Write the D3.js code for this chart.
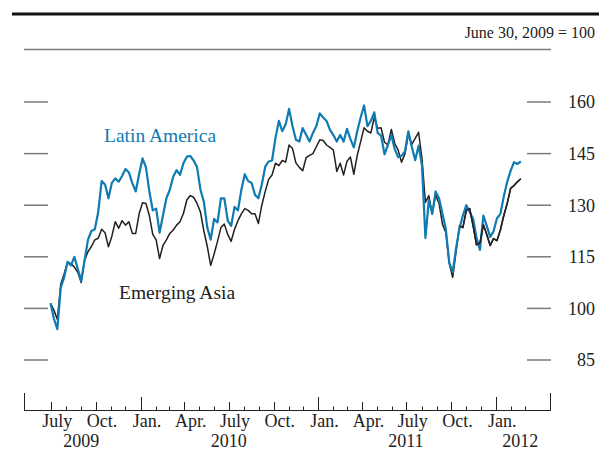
<!DOCTYPE html>
<html>
<head>
<meta charset="utf-8">
<script src="https://cdn.jsdelivr.net/npm/d3@7"></script>
<style>
  html, body { margin: 0; padding: 0; background: #fff; }
  svg { display: block; }
  text { font-family: "Liberation Serif", "Times New Roman", serif; }
</style>
</head>
<body>
<svg id="chart" width="599" height="451"></svg>
<script>
// ---------- data ----------
const startDate = "2009-06-30";          // first weekly observation
const stepDays = 7;                       // weekly observations
const latinAmerica = [
  101.5, 97, 94, 106, 109, 113.5, 112.5, 115, 111.5, 108,
  114, 120, 122.5, 123, 128, 137, 136, 132, 136.5, 137.8,
  136.8, 138.5, 140.5, 139.5, 136.4, 134, 139, 143.6, 141, 134,
  128.5, 129, 122, 127, 132, 134.5, 138.3, 140.2, 138.8, 142.2,
  144.1, 144.3, 143, 141, 134.5, 131, 123.5, 120, 126, 125,
  132, 132, 125.5, 124, 129.5, 128.5, 134.5, 139, 137, 136.5,
  133, 132, 136, 141.2, 142.7, 143, 149.5, 154.5, 151.5, 153.5,
  158, 153, 149, 148.5, 152.4, 150.5, 148.5, 151, 153, 156.7,
  155.5, 154.5, 151.9, 150.4, 148.5, 150.4, 148.5, 152.2, 149.2, 146.8,
  151.5, 155.5, 159, 153, 154.5, 157, 151, 150.2, 144.8, 147.5,
  150.4, 146.3, 144, 144.4, 145.6, 151.5, 147, 143.1, 147.3, 141.5,
  120.5, 131.5, 127.5, 134, 132, 127.5, 123, 113.3, 110.5, 117.5,
  123.3, 127, 130, 128, 126, 120.5, 117, 127, 124, 120.8,
  122.4, 126.2, 127.5, 132.5, 136.8, 140, 142.5, 142, 142.7
];
const emergingAsia = [
  101.5, 99.5, 96.8, 107, 110, 113.5, 113, 112, 110.5, 107.5,
  114, 116.5, 118, 119.9, 120.4, 123, 122, 117.9, 121, 125.2,
  123.3, 125.5, 124.2, 125.2, 121.8, 121.8, 127.5, 130.7, 130.5, 127,
  121.5, 119.9, 114.5, 118.3, 119.9, 121.8, 122.8, 124.2, 125.2, 127.6,
  131.5, 132.8, 132.3, 130.5, 128, 122.5, 118, 112.5, 115.8, 119.5,
  123.5, 124.5, 121.5, 119.5, 123, 125.5, 127.5, 129, 128.5, 127.5,
  127.5, 124.7, 130, 134, 137.5, 138.8, 142.2, 141.5, 143, 142.5,
  147.5, 146.5, 142.3, 141, 140, 143.8, 144.5, 145, 147, 149,
  148.8, 147.5, 146.8, 146, 139.8, 142.2, 138.8, 142.8, 144, 139,
  144.5, 148.5, 152.5, 151.5, 151, 155.5, 152.4, 152.5, 148.3, 147.5,
  152, 148, 146, 142.5, 145, 150.5, 147.7, 149.4, 151.2, 143.5,
  130.8, 132.8, 127.5, 133, 130.5, 124.5, 122, 113, 109, 116.5,
  124, 123.5, 128.5, 129, 124, 118.5, 119, 124.3, 121.5, 118.3,
  120.3, 119.7, 122.8, 127, 130.5, 134.9, 135.7, 136.8, 137.7
];
const yTicks = [85, 100, 115, 130, 145, 160];
const monthLabels = ["July", "Oct.", "Jan.", "Apr.", "July", "Oct.", "Jan.", "Apr.", "July", "Oct.", "Jan."];
const monthLabelDates = ["2009-07-14", "2009-10-14", "2010-01-14", "2010-04-14", "2010-07-14", "2010-10-14",
                         "2011-01-14", "2011-04-14", "2011-07-14", "2011-10-14", "2012-01-14"];
const yearLabels = ["2009", "2010", "2011", "2012"];
const yearLabelDates = ["2009-09-01", "2010-07-01", "2011-06-30", "2012-02-20"];
const unitNote = "June 30, 2009 = 100";
const seriesNames = ["Latin America", "Emerging Asia"];

// ---------- layout ----------
const parse = d3.utcParse("%Y-%m-%d");
const svg = d3.select("#chart");
const font = 18;
const labelFont = 19.5;
const blue = "#0f7bb2";
const black = "#231f20";

const x = d3.scaleUtc()
  .domain([parse("2009-07-01"), parse("2012-01-01")])
  .range([51, 496]);
const y = d3.scaleLinear().domain([85, 160]).range([360, 102]);

const frameLeft = 24, frameRight = 551;
const axisY = 410.5;

const t0 = parse(startDate);
const dates = latinAmerica.map((_, i) => d3.utcDay.offset(t0, i * stepDays));

// top rule
svg.append("line").attr("x1", 12).attr("x2", 599).attr("y1", 14).attr("y2", 14)
  .attr("stroke", "#111").attr("stroke-width", 3);
// unit note
svg.append("text").attr("x", 595).attr("y", 38).attr("text-anchor", "end")
  .attr("font-size", 16).attr("fill", "#222").text(unitNote);
// gray rule under note
svg.append("line").attr("x1", frameLeft).attr("x2", frameRight).attr("y1", 49.5).attr("y2", 49.5)
  .attr("stroke", "#7a7a7a").attr("stroke-width", 1.5);

// y ticks on both sides
const yt = svg.append("g");
yt.selectAll("line.l").data(yTicks).join("line").attr("class", "l")
  .attr("x1", frameLeft).attr("x2", 48).attr("y1", d => y(d)).attr("y2", d => y(d))
  .attr("stroke", "#7a7a7a").attr("stroke-width", 1.5);
yt.selectAll("line.r").data(yTicks).join("line").attr("class", "r")
  .attr("x1", 527).attr("x2", frameRight).attr("y1", d => y(d)).attr("y2", d => y(d))
  .attr("stroke", "#7a7a7a").attr("stroke-width", 1.5);
yt.selectAll("text").data(yTicks).join("text")
  .attr("x", 595).attr("y", d => y(d)).attr("dy", "0.35em").attr("text-anchor", "end")
  .attr("font-size", font).attr("fill", "#222").text(d => d);

// x axis frame
const xa = svg.append("g").attr("stroke", "#222").attr("stroke-width", 1);
xa.append("line").attr("x1", frameLeft).attr("x2", frameRight).attr("y1", axisY).attr("y2", axisY);
xa.append("line").attr("x1", frameLeft + 0.5).attr("x2", frameLeft + 0.5).attr("y1", 393).attr("y2", axisY);
xa.append("line").attr("x1", frameRight - 0.5).attr("x2", frameRight - 0.5).attr("y1", 393).attr("y2", axisY);
const months = d3.utcMonth.range(parse("2009-07-01"), parse("2012-04-01"));
xa.selectAll("line.m").data(months).join("line").attr("class", "m")
  .attr("x1", d => Math.round(x(d)) + 0.5).attr("x2", d => Math.round(x(d)) + 0.5)
  .attr("y1", d => d.getUTCMonth() === 0 ? 397 : (d.getUTCMonth() % 3 === 0 ? 402 : 406.5))
  .attr("y2", axisY);

svg.append("g").selectAll("text").data(monthLabels).join("text")
  .attr("x", (d, i) => x(parse(monthLabelDates[i]))).attr("y", 427)
  .attr("text-anchor", "middle").attr("font-size", font).attr("fill", "#222").text(d => d);
svg.append("g").selectAll("text").data(yearLabels).join("text")
  .attr("x", (d, i) => x(parse(yearLabelDates[i]))).attr("y", 447)
  .attr("text-anchor", "middle").attr("font-size", font).attr("fill", "#222").text(d => d);

// lines
const line = d3.line().x((d, i) => x(dates[i])).y(d => y(d)).curve(d3.curveLinear);
svg.append("path").datum(emergingAsia).attr("d", line)
  .attr("fill", "none").attr("stroke", black).attr("stroke-width", 1.5).attr("stroke-linejoin", "round");
svg.append("path").datum(latinAmerica).attr("d", line)
  .attr("fill", "none").attr("stroke", blue).attr("stroke-width", 2.2).attr("stroke-linejoin", "round");
svg.append("path").datum(emergingAsia.slice(120)).attr("d", d3.line().x((d, i) => x(dates[i + 120])).y(d => y(d)))
  .attr("fill", "none").attr("stroke", black).attr("stroke-width", 1.5).attr("stroke-linejoin", "round");

// series labels
svg.append("text").attr("x", 104).attr("y", 142).attr("font-size", labelFont).attr("fill", blue).text(seriesNames[0]);
svg.append("text").attr("x", 119).attr("y", 299).attr("font-size", labelFont).attr("fill", "#222").text(seriesNames[1]);
</script>
</body>
</html>
